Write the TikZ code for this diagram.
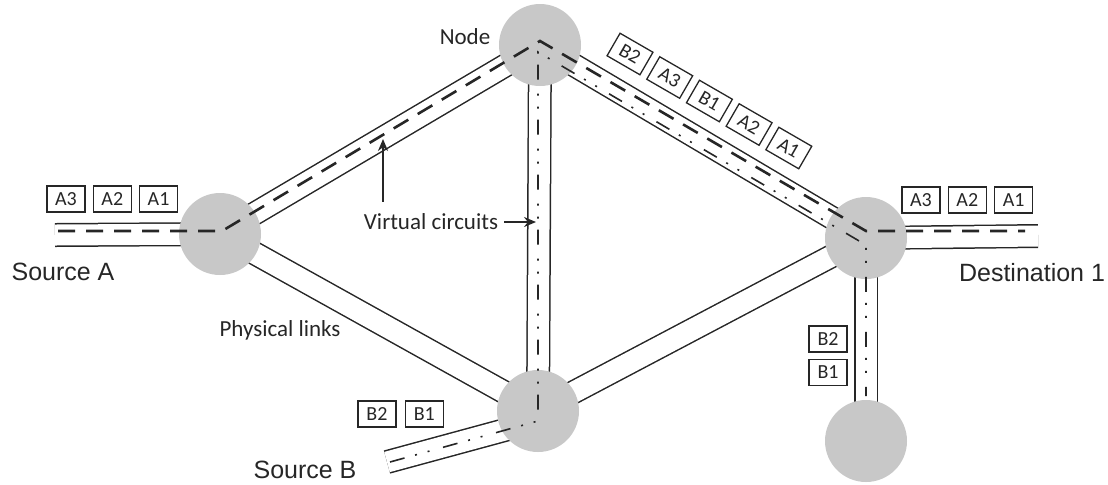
\documentclass[tikz,border=0pt]{standalone}
\usepackage{fontspec}
\setmainfont{Carlito}
\newfontfamily\arialfont{Liberation Sans}
\usetikzlibrary{positioning, arrows.meta, backgrounds}
\definecolor{cnode}{HTML}{C8C8C8}
\definecolor{cline}{HTML}{262626}
\tikzset{
  rtr/.style={circle, fill=cnode, minimum size=41pt, inner sep=0pt},
  pipe/.style={draw=cline, line width=0.75pt, double=white, double distance=10.5pt},
  vca/.style={draw=cline, line width=1.3pt, dash pattern=on 8.5pt off 5.5pt},
  vcb/.style={draw=cline, line width=0.8pt,
              dash pattern=on 7.5pt off 5.5pt on 1pt off 5.5pt on 1pt off 7pt},
  pkt/.style={draw=cline, line width=0.65pt, minimum width=19pt, minimum height=13pt,
              inner sep=0pt, text=cline, font=\fontsize{10}{12}\selectfont},
  lbl/.style={text=cline, inner sep=0pt, font=\fontsize{11.5}{13}\selectfont},
  big/.style={text=cline, inner sep=0pt, font=\arialfont\fontsize{12.5}{14}\selectfont},
  fl/.style={-{Stealth[length=6pt, width=5pt]}, line width=0.75pt, draw=cline},
}
\begin{document}
\begin{tikzpicture}[x=0.5pt, y=-0.5pt]
  \useasboundingbox (0,0) rectangle (1108,484);
  \node[rtr] (nA) at (220,234) {};
  \node[rtr] (nTop) at (540,45) {};
  \node[rtr] (nBot) at (538,411) {};
  \node[rtr] (nR) at (866,238) {};
  \node[rtr] (nBR) at (866,441) {};
  \coordinate (sA) at (55,235);
  \coordinate (dD) at (1038,236);
  \coordinate (sB) at (387,462);
  \coordinate (bJ) at (538,421);
  \begin{scope}[on background layer]
    \draw[pipe] (sA) -- (nA.center);
    \draw[pipe] (nA.center) -- (nTop.center);
    \draw[pipe] (nA.center) -- (nBot.center);
    \draw[pipe] (nTop.center) -- (nBot.center);
    \draw[pipe] (nTop.center) -- (nR.center);
    \draw[pipe] (nBot.center) -- (nR.center);
    \draw[pipe] (nR.center) -- (nBR.center);
    \draw[pipe] (nR.center) -- (dD);
    \draw[pipe] (sB) -- (bJ);
  \end{scope}
  \coordinate (vaS) at (58,231);
  \coordinate (vaA) at (222,231);
  \coordinate (vaT) at (540,41);
  \coordinate (vaR) at (866,231);
  \coordinate (vaD) at (1025,231);
  \draw[vca] (vaS) -- (vaA) -- (vaT) -- (vaR) -- (vaD);
  \coordinate (vbS) at (390,462);
  \coordinate (vbT) at (538,52);
  \coordinate (vbR) at (866,245);
  \coordinate (vbE) at (866,396);
  \draw[vcb] (vbS) -- (bJ) -- (vbT) -- (vbR) -- (vbE);
  \node[pkt] (aA3) at (66,199) {A3};
  \node[pkt, right=3.5pt of aA3] (aA2) {A2};
  \node[pkt, right=3.5pt of aA2] (aA1) {A1};
  \node[pkt] (dA3) at (921,200) {A3};
  \node[pkt, right=3.5pt of dA3] (dA2) {A2};
  \node[pkt, right=3.5pt of dA2] (dA1) {A1};
  \node[pkt] (sB2) at (377,414) {B2};
  \node[pkt, right=4pt of sB2] (sB1) {B1};
  \node[pkt] (rB2) at (828,339) {B2};
  \node[pkt, below=3pt of rB2] (rB1) {B1};
  \node[pkt, rotate=-30] (tB2) at (630,54) {B2};
  \node[pkt, rotate=-30] (tA3) at (669.7,77.5) {A3};
  \node[pkt, rotate=-30] (tB1) at (709.4,101) {B1};
  \node[pkt, rotate=-30] (tA2) at (749.1,124.5) {A2};
  \node[pkt, rotate=-30] (tA1) at (788.8,148) {A1};
  \node[big] (srcA) at (63,272) {Source A};
  \node[big] (dst) at (1032,273) {Destination 1};
  \node[big] (srcB) at (305,470) {Source B};
  \node[lbl] (nlbl) at (465,37) {Node};
  \node[lbl] (phy) at (280,330) {Physical links};
  \node[lbl] (vc) at (431,222) {Virtual circuits};
  \coordinate (vcUp) at (383,139);
  \coordinate (vcIn) at (536,222);
  \draw[fl] ([yshift=6pt]vc.north -| vcUp) -- (vcUp);
  \draw[fl] ([xshift=3pt]vc.east) -- (vcIn);
\end{tikzpicture}
\end{document}
